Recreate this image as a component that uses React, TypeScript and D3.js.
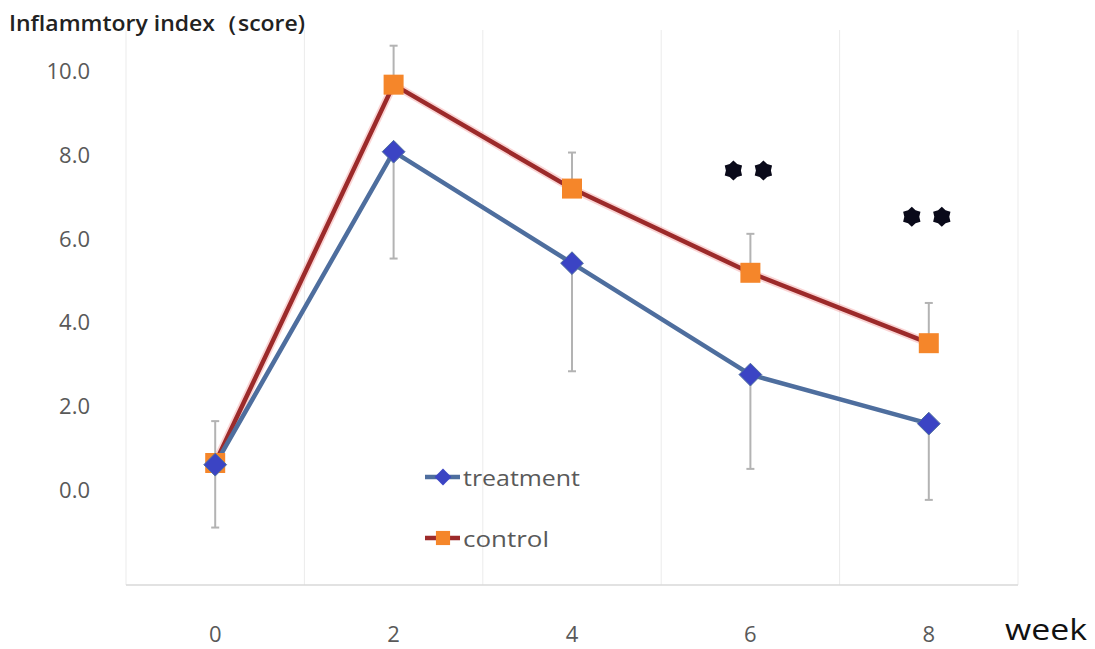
import React from "react";
import * as d3 from "d3";

const weeks = ["0", "2", "4", "6", "8"];
const treatment = [0.58, 8.05, 5.39, 2.73, 1.56];
const control = [0.62, 9.65, 7.17, 5.16, 3.48];
const treatmentErrMinus = [1.5, 2.55, 2.58, 2.25, 1.82];
const controlErrPlus = [1.0, 0.93, 0.86, 0.93, 0.96];
const yTicks = [0, 2, 4, 6, 8, 10];
const starWeeks = ["6", "8"];
const starValues = [7.6, 6.5];

const W = 1095;
const H = 649;

function starPath(cx: number, cy: number, ro: number, ri: number, n: number) {
  const pts: [number, number][] = [];
  for (let i = 0; i < n * 2; i++) {
    const r = i % 2 === 0 ? ro : ri;
    const a = (Math.PI / n) * i - Math.PI / 2;
    pts.push([cx + r * Math.cos(a), cy + r * Math.sin(a)]);
  }
  return d3.line()(pts)! + "Z";
}

export default function App() {
  const x = d3.scalePoint<string>().domain(weeks).range([126, 1018]).padding(0.5);
  const y = d3.scaleLinear().domain([0, 10]).range([489, 70]);
  const step = x.step();
  const gridXs = d3.range(weeks.length + 1).map((i) => 126 + i * step);

  const line = d3
    .line<number>()
    .x((_, i) => x(weeks[i])!)
    .y((d) => y(d));

  const diamond = d3.symbol().type(d3.symbolDiamond2 || d3.symbolDiamond).size(330)();
  const square = d3.symbol().type(d3.symbolSquare).size(400)();
  const diamondSmall = d3.symbol().type(d3.symbolDiamond2 || d3.symbolDiamond).size(180)();
  const squareSmall = d3.symbol().type(d3.symbolSquare).size(200)();

  const font = "'Open Sans', 'Noto Sans', sans-serif";
  const gray = "#595959";

  return (
    <svg
      width={W}
      height={H}
      style={{ position: "absolute", left: 0, top: 0, background: "#fff" }}
    >
      <rect x={0} y={0} width={W} height={H} fill="#fff" />
      {/* title */}
      <text
        x={9}
        y={31}
        fontFamily={font}
        fontSize={21}
        fill="#222"
        fontWeight={600}
        textLength={296}
        lengthAdjust="spacingAndGlyphs"
      >
        Inflammtory index（score)
      </text>
      {/* grid */}
      {gridXs.map((gx, i) => (
        <line key={i} x1={gx} x2={gx} y1={30} y2={585} stroke="#ebebeb" strokeWidth={1} />
      ))}
      <line x1={126} x2={1018} y1={585} y2={585} stroke="#d9d9d9" strokeWidth={1.5} />
      {/* y ticks */}
      {yTicks.map((t) => (
        <text
          key={t}
          x={90}
          y={y(t)}
          textAnchor="end"
          dominantBaseline="central"
          fontFamily={font}
          fontSize={22}
          fill={gray}
        >
          {t.toFixed(1)}
        </text>
      ))}
      {/* x ticks */}
      {weeks.map((w) => (
        <text
          key={w}
          x={x(w)!}
          y={633}
          textAnchor="middle"
          dominantBaseline="central"
          fontFamily={font}
          fontSize={22}
          fill={gray}
        >
          {w}
        </text>
      ))}
      <text
        x={1005}
        y={640}
        fontFamily={font}
        fontSize={29}
        fill="#111"
        textLength={82}
        lengthAdjust="spacingAndGlyphs"
      >
        week
      </text>
      {/* error bars */}
      {weeks.map((w, i) => {
        const cx = x(w)!;
        const top = y(control[i] + controlErrPlus[i]);
        const bot = y(treatment[i] - treatmentErrMinus[i]);
        return (
          <g key={w} stroke="#b3b3b3" strokeWidth={2}>
            <line x1={cx} x2={cx} y1={top} y2={y(control[i])} />
            <line x1={cx - 4} x2={cx + 4} y1={top} y2={top} />
            <line x1={cx} x2={cx} y1={y(treatment[i])} y2={bot} />
            <line x1={cx - 4} x2={cx + 4} y1={bot} y2={bot} />
          </g>
        );
      })}
      {/* control line */}
      <path d={line(control)!} fill="none" stroke="#f4a0a0" strokeOpacity={0.45} strokeWidth={8} strokeLinejoin="round" />
      <path d={line(control)!} fill="none" stroke="#9c2a2a" strokeWidth={4.5} strokeLinejoin="round" />
      {/* treatment line */}
      <path d={line(treatment)!} fill="none" stroke="#4e6e9e" strokeWidth={4.5} strokeLinejoin="round" />
      {control.map((v, i) => (
        <path key={"c" + i} d={square!} transform={`translate(${x(weeks[i])},${y(v)})`} fill="#f5862a" />
      ))}
      {treatment.map((v, i) => (
        <path key={"t" + i} d={diamond!} transform={`translate(${x(weeks[i])},${y(v)})`} fill="#3b44c4" stroke="#4e6e9e" strokeWidth={1} />
      ))}
      {/* stars */}
      {starWeeks.map((w, i) => (
        <g key={"s" + w} fill="#0a0a1a">
          <path d={starPath(x(w)! - 17, y(starValues[i]), 10, 7.5, 6)} />
          <path d={starPath(x(w)! + 13, y(starValues[i]), 10, 7.5, 6)} />
        </g>
      ))}
      {/* legend */}
      <g>
        <line x1={425} x2={460} y1={477} y2={477} stroke="#4e6e9e" strokeWidth={4.5} />
        <path d={diamondSmall!} transform="translate(443,477)" fill="#3b44c4" />
        <text
          x={463}
          y={477}
          dominantBaseline="central"
          fontFamily={font}
          fontSize={22}
          fill={gray}
          textLength={117}
          lengthAdjust="spacingAndGlyphs"
        >
          treatment
        </text>
        <line x1={425} x2={460} y1={538} y2={538} stroke="#9c2a2a" strokeWidth={4.5} />
        <path d={squareSmall!} transform="translate(443,538)" fill="#f5862a" />
        <text
          x={463}
          y={538}
          dominantBaseline="central"
          fontFamily={font}
          fontSize={22}
          fill={gray}
          textLength={86}
          lengthAdjust="spacingAndGlyphs"
        >
          control
        </text>
      </g>
    </svg>
  );
}
